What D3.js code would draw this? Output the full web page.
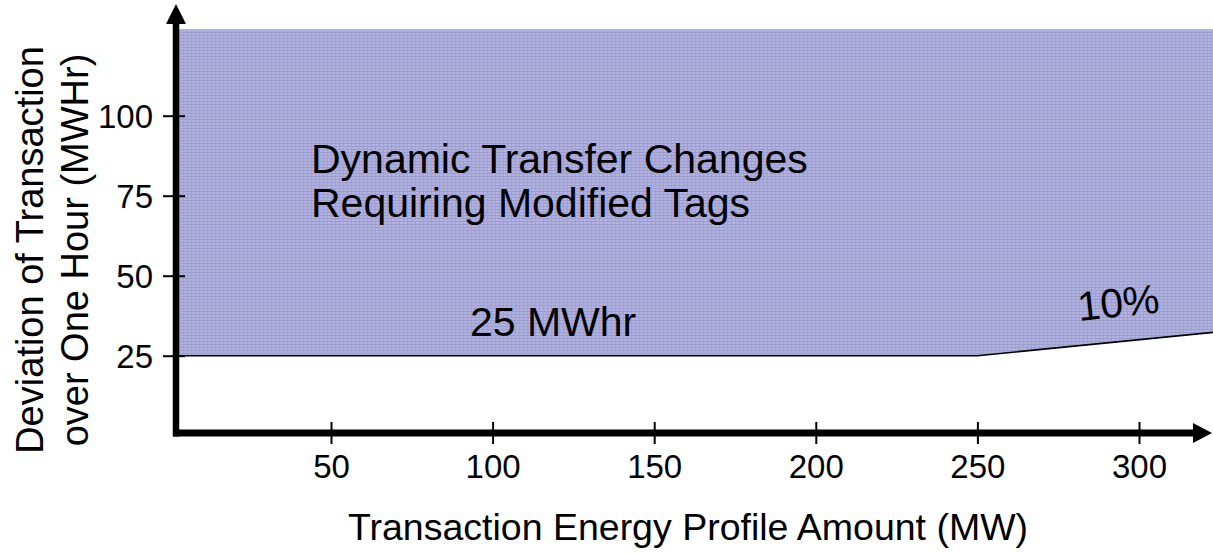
<!DOCTYPE html>
<html>
<head>
<meta charset="utf-8">
<script src="https://cdn.jsdelivr.net/npm/d3@7"></script>
<style>
  body { margin: 0; background: #fff; }
  svg { display: block; font-family: "Liberation Sans", Arial, sans-serif; }
</style>
</head>
<body>
<svg id="chart"></svg>
<script>
// data
var xTicks = [50, 100, 150, 200, 250, 300];
var yTicks = [25, 50, 75, 100];
var boundaryMW = [0, 250, 330];     // transaction amount (MW)
var boundaryDev = [25, 25, 33];     // 25 MWhr, then 10 %
var regionTop = 127;                // top of the shaded region (MWHr)

var width = 1213, height = 554;
var axisX = 176, axisY = 433;

var svg = d3.select("#chart")
    .attr("width", width)
    .attr("height", height);

var xScale = d3.scaleLinear().domain([0, 300]).range([169.4, 1139]);
var yScale = d3.scaleLinear().domain([0, 100]).range([435.7, 115.7]);

// dotted lavender fill like the original
var defs = svg.append("defs");
var pat = defs.append("pattern")
    .attr("id", "dots")
    .attr("patternUnits", "userSpaceOnUse")
    .attr("width", 4)
    .attr("height", 3);
pat.append("rect").attr("width", 4).attr("height", 3).attr("fill", "#b2b2e0");
pat.append("rect").attr("y", 2).attr("width", 4).attr("height", 1).attr("fill", "#9c9cce");
pat.append("rect").attr("x", 3).attr("width", 1).attr("height", 3).attr("fill", "#a2a2d2");

defs.append("clipPath").attr("id", "plotclip")
  .append("rect")
    .attr("x", axisX + 3)
    .attr("y", 0)
    .attr("width", width - axisX - 3)
    .attr("height", axisY);

var boundary = boundaryMW.map((d, i) => ({ mw: d, dev: boundaryDev[i] }));

var plot = svg.append("g").attr("clip-path", "url(#plotclip)");

// shaded region
var area = d3.area()
    .x(d => xScale(d.mw))
    .y0(yScale(regionTop))
    .y1(d => yScale(d.dev));

plot.append("path")
    .datum(boundary)
    .attr("d", area)
    .attr("fill", "url(#dots)");

// boundary line
var line = d3.line()
    .x(d => xScale(d.mw))
    .y(d => yScale(d.dev));

plot.append("path")
    .datum(boundary)
    .attr("d", line)
    .attr("fill", "none")
    .attr("stroke", "#000")
    .attr("stroke-width", 1.6);

// x axis ticks + labels
var gx = svg.append("g")
    .attr("transform", `translate(0, ${axisY})`)
    .call(d3.axisBottom(xScale).tickValues(xTicks).tickSize(11).tickPadding(20).tickFormat(d3.format("d")));
gx.select(".domain").remove();
gx.selectAll(".tick line")
    .attr("y1", -11)
    .attr("y2", 11)
    .attr("stroke", "#000")
    .attr("stroke-width", 2);
gx.selectAll(".tick text")
    .attr("y", 45)
    .attr("dy", 0)
    .attr("fill", "#000")
    .style("font-family", "'Liberation Sans', Arial, sans-serif")
    .style("font-size", "33px");

// y axis ticks + labels
var gy = svg.append("g")
    .attr("transform", `translate(${axisX}, 0)`)
    .call(d3.axisLeft(yScale).tickValues(yTicks).tickSize(13).tickFormat(d3.format("d")));
gy.select(".domain").remove();
gy.selectAll(".tick line")
    .attr("x1", -13)
    .attr("x2", 9)
    .attr("stroke", "#000")
    .attr("stroke-width", 2);
gy.selectAll(".tick text")
    .attr("x", -23)
    .attr("dy", "0.36em")
    .attr("fill", "#000")
    .style("font-family", "'Liberation Sans', Arial, sans-serif")
    .style("font-size", "33px");

// thick axis lines with arrows
svg.append("line")
    .attr("x1", axisX).attr("x2", axisX)
    .attr("y1", axisY + 3.5).attr("y2", 22)
    .attr("stroke", "#000").attr("stroke-width", 6.5);
svg.append("path")
    .attr("d", `M${axisX - 10},24 L${axisX},4 L${axisX + 10},24 Z`)
    .attr("fill", "#000");

svg.append("line")
    .attr("x1", axisX - 3).attr("x2", 1195)
    .attr("y1", axisY).attr("y2", axisY)
    .attr("stroke", "#000").attr("stroke-width", 7);
svg.append("path")
    .attr("d", `M1193,${axisY - 10} L1212,${axisY} L1193,${axisY + 10} Z`)
    .attr("fill", "#000");

// annotations
var note = svg.append("text")
    .attr("x", 311)
    .attr("y", 173)
    .style("font-size", "41px")
    .attr("fill", "#000");
note.append("tspan").attr("x", 311).text("Dynamic Transfer Changes");
note.append("tspan").attr("x", 311).attr("dy", 44).text("Requiring Modified Tags");

svg.append("text")
    .attr("x", xScale(93))
    .attr("y", 336)
    .style("font-size", "41px")
    .attr("fill", "#000")
    .text("25 MWhr");

svg.append("text")
    .attr("transform", `translate(1079, 321) rotate(-6)`)
    .style("font-size", "41px")
    .attr("fill", "#000")
    .text("10%");

// axis titles
svg.append("text")
    .attr("x", 688)
    .attr("y", 540)
    .attr("text-anchor", "middle")
    .style("font-size", "37.5px")
    .attr("fill", "#000")
    .text("Transaction Energy Profile Amount (MW)");

var ytitle = svg.append("text")
    .attr("transform", "translate(43, 250) rotate(-90)")
    .attr("text-anchor", "middle")
    .style("font-size", "38px")
    .attr("fill", "#000");
ytitle.append("tspan").attr("x", 0).attr("y", 0).text("Deviation of Transaction");
ytitle.append("tspan").attr("x", 0).attr("y", 45).text("over One Hour (MWHr)");
</script>
</body>
</html>
